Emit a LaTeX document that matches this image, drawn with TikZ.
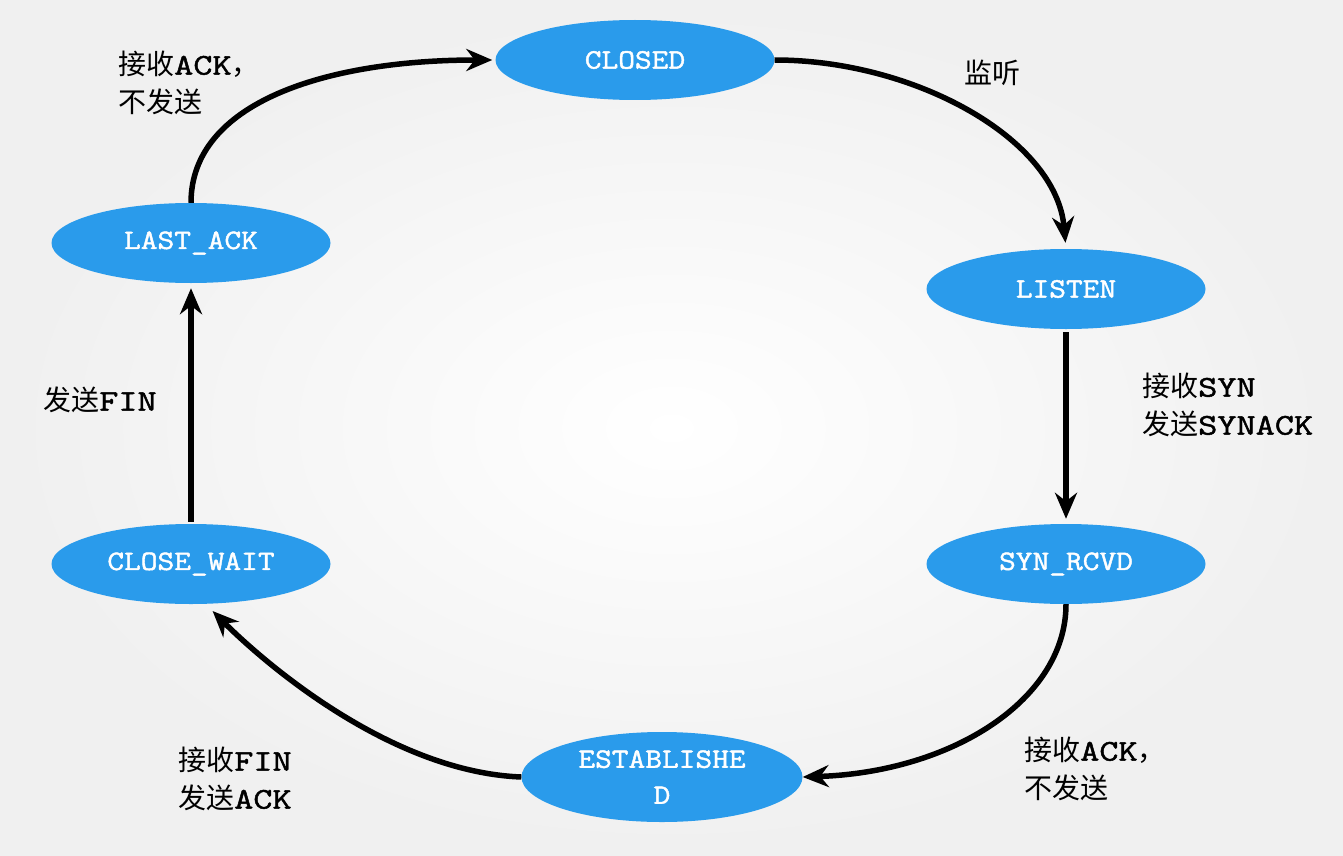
\documentclass[tikz,border=0pt]{standalone}
\usepackage{fontspec}
\newfontfamily\cjk{Noto Sans CJK SC}
\newfontfamily\cour[FakeBold=1.6, FakeStretch=1.16]{Latin Modern Mono}
\newfontfamily\courlbl[FakeBold=1.6, FakeStretch=1.24]{Latin Modern Mono}
\usetikzlibrary{shapes.geometric,arrows.meta}
\definecolor{stateblue}{RGB}{42,155,235}
\newcommand{\cj}[1]{{\cjk\fontsize{28}{38}\selectfont #1}}
\newcommand{\mo}[1]{{\courlbl\fontsize{30}{38}\selectfont #1}}
\tikzset{
  state/.style={ellipse, fill=stateblue, draw=none, inner sep=0pt,
    minimum width=279pt, minimum height=80pt, text=white,
    font=\cour\fontsize{28}{36}\selectfont, align=center},
  lbl/.style={anchor=west, align=left, inner sep=0pt, text=black,
    font=\fontsize{28}{38}\selectfont},
  conn/.style={line width=5.5pt, -{Stealth[length=26pt,width=22pt]}, black}
}
\begin{document}
\begin{tikzpicture}[x=1pt,y=-1pt]
\shade[inner color=white, outer color=black!6] (0,0) rectangle (1343,856);
\useasboundingbox (0,0) rectangle (1343,856);

\node[state] (closed) at (635,60) {CLOSED};
\node[state] (listen) at (1066,289) {LISTEN};
\node[state] (synrcvd) at (1066,564) {SYN\_RCVD};
\node[state, minimum width=281pt, minimum height=90pt] (est) at (662,777) {ESTABLISHE\\D};
\node[state] (closewait) at (191,564) {CLOSE\_WAIT};
\node[state] (lastack) at (191,243) {LAST\_ACK};

\draw[conn, shorten >=6pt] (closed.east) .. controls +(140,0) and +(-10,-110) .. (listen.north);
\draw[conn, shorten <=3pt, shorten >=5pt] (listen.south) -- (synrcvd.north);
\draw[conn] (synrcvd.south) .. controls +(0,95) and +(150,-5) .. (est.east);
\draw[conn, shorten >=10pt] (est.west) .. controls +(-130,-5) and +(60,60) .. (closewait.-70);
\draw[conn, shorten <=2pt, shorten >=5pt] (closewait.north) -- (lastack.south);
\draw[conn, shorten >=3pt] (lastack.north) .. controls +(0,-100) and +(-170,0) .. (closed.west);

\node[lbl] (l1) at (118,83) {\cj{接收}\mo{ACK}\cj{，}\\\cj{不发送}};
\node[lbl] (l2) at (964,73) {\cj{监听}};
\node[lbl] (l3) at (1142,405) {\cj{接收}\mo{SYN}\\\cj{发送}\mo{SYNACK}};
\node[lbl] (l4) at (1024,769) {\cj{接收}\mo{ACK}\cj{，}\\\cj{不发送}};
\node[lbl] (l5) at (178,779) {\cj{接收}\mo{FIN}\\\cj{发送}\mo{ACK}};
\node[lbl] (l6) at (43,400) {\cj{发送}\mo{FIN}};
\end{tikzpicture}
\end{document}
